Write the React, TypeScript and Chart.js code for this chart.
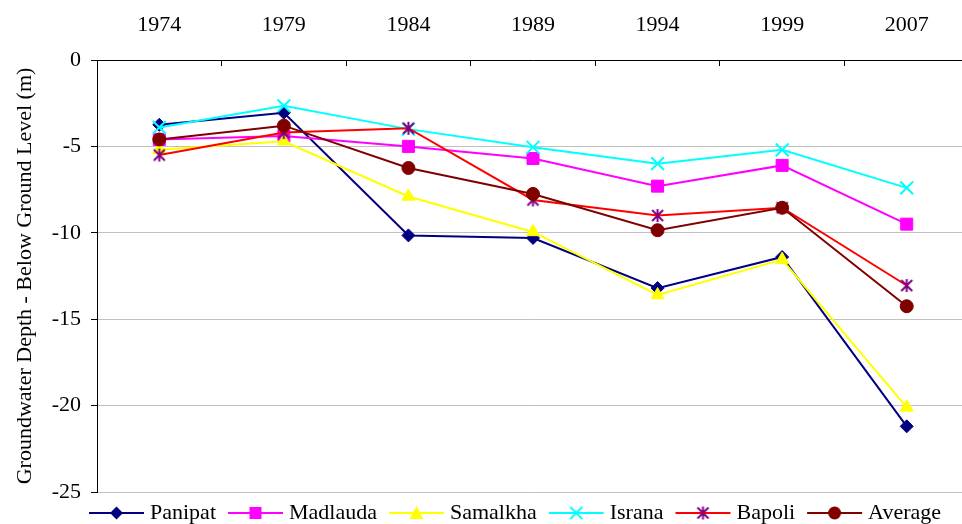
import React, { useEffect, useRef } from 'react';
import { Chart, registerables } from 'chart.js';

Chart.register(...registerables);

// ---- data ----
const years = ['1974', '1979', '1984', '1989', '1994', '1999', '2007'];
const panipat = [-3.75, -3.05, -10.15, -10.3, -13.2, -11.4, -21.2];
const madlauda = [-4.6, -4.4, -5.0, -5.7, -7.3, -6.1, -9.5];
const samalkha = [-5.2, -4.7, -7.9, -9.95, -13.6, -11.55, -20.1];
const israna = [-3.9, -2.65, -4.0, -5.05, -6.0, -5.2, -7.4];
const bapoli = [-5.5, -4.2, -3.95, -8.1, -9.0, -8.55, -13.05];
const average = [-4.6, -3.8, -6.25, -7.75, -9.85, -8.55, -14.25];

const yTitle = 'Groundwater Depth - Below Ground Level (m)';
const yMin = -25;
const yMax = 0;
const yStep = 5;

const FONT = 'Liberation Serif';

type MarkerKind = 'diamond' | 'square' | 'triangle' | 'x' | 'star' | 'circle';

function drawMarker(ctx: CanvasRenderingContext2D, kind: MarkerKind, cx: number, cy: number, color: string) {
  ctx.save();
  ctx.fillStyle = color;
  ctx.strokeStyle = color;
  ctx.lineWidth = 2;
  ctx.beginPath();
  switch (kind) {
    case 'diamond':
      ctx.moveTo(cx, cy - 6.5);
      ctx.lineTo(cx + 6.5, cy);
      ctx.lineTo(cx, cy + 6.5);
      ctx.lineTo(cx - 6.5, cy);
      ctx.closePath();
      ctx.fill();
      break;
    case 'square':
      ctx.rect(cx - 6, cy - 6, 12, 12);
      ctx.fill();
      break;
    case 'triangle':
      ctx.moveTo(cx, cy - 7);
      ctx.lineTo(cx + 7, cy + 6);
      ctx.lineTo(cx - 7, cy + 6);
      ctx.closePath();
      ctx.fill();
      break;
    case 'x':
      ctx.moveTo(cx - 6, cy - 6);
      ctx.lineTo(cx + 6, cy + 6);
      ctx.moveTo(cx + 6, cy - 6);
      ctx.lineTo(cx - 6, cy + 6);
      ctx.stroke();
      break;
    case 'star':
      ctx.moveTo(cx - 5.5, cy - 5.5);
      ctx.lineTo(cx + 5.5, cy + 5.5);
      ctx.moveTo(cx + 5.5, cy - 5.5);
      ctx.lineTo(cx - 5.5, cy + 5.5);
      ctx.moveTo(cx, cy - 6.5);
      ctx.lineTo(cx, cy + 6.5);
      ctx.stroke();
      break;
    case 'circle':
      ctx.arc(cx, cy, 6.5, 0, Math.PI * 2);
      ctx.fill();
      break;
  }
  ctx.restore();
}

function makeStarImage(color: string): HTMLCanvasElement {
  const c = document.createElement('canvas');
  c.width = 15;
  c.height = 15;
  const ctx = c.getContext('2d')!;
  drawMarker(ctx, 'star', 7.5, 7.5, color);
  return c;
}

function makeLegendIcon(lineColor: string, markerColor: string, kind: MarkerKind): HTMLCanvasElement {
  const c = document.createElement('canvas');
  c.width = 70;
  c.height = 18;
  const ctx = c.getContext('2d')!;
  ctx.strokeStyle = lineColor;
  ctx.lineWidth = 2;
  ctx.beginPath();
  ctx.moveTo(11, 9);
  ctx.lineTo(66, 9);
  ctx.stroke();
  drawMarker(ctx, kind, 38.5, 9, markerColor);
  return c;
}

export default function App() {
  const ref = useRef<HTMLCanvasElement | null>(null);

  useEffect(() => {
    if (!ref.current) return;

    const series = [
      { label: 'Panipat', data: panipat, line: '#000080', marker: '#000080', kind: 'diamond' as MarkerKind, style: 'rectRot', radius: 6.5, bw: 1 },
      { label: 'Madlauda', data: madlauda, line: '#FF00FF', marker: '#FF00FF', kind: 'square' as MarkerKind, style: 'rect', radius: 8.5, bw: 1 },
      { label: 'Samalkha', data: samalkha, line: '#FFFF00', marker: '#FFFF00', kind: 'triangle' as MarkerKind, style: 'triangle', radius: 7.5, bw: 1 },
      { label: 'Israna', data: israna, line: '#00FFFF', marker: '#00FFFF', kind: 'x' as MarkerKind, style: 'crossRot', radius: 9, bw: 2 },
      { label: 'Bapoli', data: bapoli, line: '#FF0000', marker: '#800080', kind: 'star' as MarkerKind, style: 'star', radius: 7, bw: 2 },
      { label: 'Average', data: average, line: '#800000', marker: '#800000', kind: 'circle' as MarkerKind, style: 'circle', radius: 6.5, bw: 1 },
    ];

    const starImg = makeStarImage('#800080');
    const icons = series.map((s) => makeLegendIcon(s.line, s.marker, s.kind));

    const chart = new Chart(ref.current, {
      type: 'line',
      data: {
        labels: years,
        datasets: series.map((s, i) => ({
          label: s.label,
          data: s.data,
          borderColor: s.line,
          backgroundColor: s.marker,
          borderWidth: 2,
          tension: 0,
          fill: false,
          pointStyle: s.kind === 'star' ? (starImg as any) : s.style,
          pointRadius: s.radius,
          pointBackgroundColor: s.marker,
          pointBorderColor: s.marker,
          pointBorderWidth: s.bw,
          order: series.length - 1 - i,
          clip: false as any,
        })),
      },
      options: {
        responsive: false,
        animation: false,
        events: [],
        layout: { padding: 0 },
        scales: {
          x: {
            type: 'category',
            position: 'top',
            offset: true,
            grid: {
              display: true,
              drawOnChartArea: false,
              drawTicks: true,
              tickLength: -6,
              tickColor: '#000',
              offset: true,
            },
            border: { display: true, color: '#000', width: 1 },
            ticks: {
              color: '#000',
              font: { family: FONT, size: 22 },
              padding: 28,
              maxRotation: 0,
              autoSkip: false,
            },
            afterFit: (s: any) => {
              s.height = 60;
            },
          },
          y: {
            type: 'linear',
            position: 'left',
            min: yMin,
            max: yMax,
            ticks: {
              stepSize: yStep,
              color: '#000',
              font: { family: FONT, size: 22 },
              padding: 10,
            },
            grid: {
              color: '#c0c0c0',
              lineWidth: 1,
              tickColor: '#000',
              tickLength: 6,
              drawTicks: true,
            },
            border: { display: true, color: '#000', width: 1 },
            title: {
              display: true,
              text: yTitle,
              color: '#000',
              font: { family: FONT, size: 22 },
              padding: { top: 12, bottom: 0 },
            },
            afterFit: (s: any) => {
              s.width = 97;
            },
          },
          yR: {
            type: 'linear',
            position: 'right',
            display: true,
            grid: { display: false, drawTicks: false },
            border: { display: false },
            ticks: { display: false },
            afterFit: (s: any) => {
              s.width = 59;
            },
          },
        },
        plugins: {
          tooltip: { enabled: false },
          legend: {
            position: 'bottom',
            labels: {
              color: '#000',
              font: { family: FONT, size: 22 },
              padding: 10,
              usePointStyle: true,
              pointStyleWidth: 52,
              generateLabels: () =>
                series.map((s, i) => ({
                  text: s.label,
                  pointStyle: icons[i] as any,
                  fillStyle: 'rgba(0,0,0,0)',
                  strokeStyle: 'rgba(0,0,0,0)',
                  lineWidth: 0,
                  hidden: false,
                  datasetIndex: i,
                  fontColor: '#000',
                })),
            },
          },
        },
      } as any,
    });

    return () => chart.destroy();
  }, []);

  return (
    <div
      style={{
        position: 'fixed',
        left: 0,
        top: 0,
        width: 962,
        height: 524,
        overflow: 'hidden',
        background: '#fff',
      }}
    >
      <canvas ref={ref} width={1028} height={534} style={{ display: 'block' }} />
    </div>
  );
}
